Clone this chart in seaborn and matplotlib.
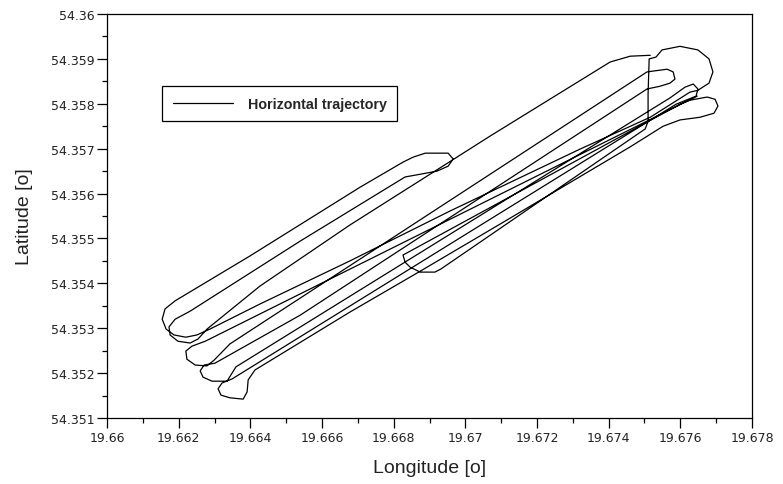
import matplotlib
matplotlib.use("Agg")
import matplotlib.pyplot as plt
from matplotlib.ticker import FixedLocator, MultipleLocator
import seaborn as sns
import pandas as pd

# ---- trajectory pieces (longitude, latitude), in travel order ----
start_c_lon = [19.67647, 19.66274, 19.66237, 19.66220, 19.66223, 19.66246, 19.66279, 19.66299]
start_c_lat = [54.35817, 54.35271, 54.35260, 54.35249, 54.35231, 54.35218, 54.35216, 54.35229]

loop2_lon = [19.66343, 19.67507, 19.67563, 19.67580, 19.67585, 19.67571, 19.67543, 19.67507]
loop2_lat = [54.35265, 54.35871, 54.35877, 54.35871, 54.35855, 54.35846, 54.35839, 54.35833]

turn_d_lon = [19.66539, 19.66301, 19.66271, 19.66260, 19.66268, 19.66293, 19.66335, 19.66349, 19.66360]
turn_d_lat = [54.35329, 54.35222, 54.35218, 54.35205, 54.35191, 54.35182, 54.35182, 54.35200, 54.35214]

loop3_lon = [19.67571, 19.67613, 19.67636, 19.67649, 19.67644, 19.67616, 19.67588]
loop3_lat = [54.35813, 54.35837, 54.35844, 54.35833, 54.35817, 54.35808, 54.35799]

turn_e_lon = [19.66349, 19.66321, 19.66310, 19.66318, 19.66343, 19.66380, 19.66391, 19.66394, 19.66413]
turn_e_lat = [54.35187, 54.35178, 54.35165, 54.35151, 54.35145, 54.35142, 54.35158, 54.35185, 54.35207]

loop4_lon = [19.66678, 19.66874, 19.67097, 19.67460, 19.67552, 19.67599, 19.67655, 19.67694, 19.67705,
             19.67697, 19.67675, 19.67627, 19.67599]
loop4_lat = [54.35336, 54.35427, 54.35532, 54.35704, 54.35750, 54.35764, 54.35770, 54.35779, 54.35795,
             54.35810, 54.35815, 54.35808, 54.35799]

hook_low_lon = [19.66826, 19.66832, 19.66846, 19.66874, 19.66915, 19.66932]
hook_low_lat = [54.35463, 54.35447, 54.35436, 54.35425, 54.35425, 54.35432]

rise_lon = [19.67502, 19.67510, 19.67510, 19.67513]
rise_lat = [54.35744, 54.35761, 54.35822, 54.35900]

loop_big_lon = [19.67532, 19.67549, 19.67599, 19.67649, 19.67680, 19.67691, 19.67680, 19.67649, 19.67627]
loop_big_lat = [54.35904, 54.35920, 54.35928, 54.35920, 54.35900, 54.35871, 54.35846, 54.35830, 54.35826]

diag_lon = [19.67516, 19.67320, 19.66957, 19.66678, 19.66427, 19.66287, 19.66251]
diag_lat = [54.35770, 54.35699, 54.35561, 54.35450, 54.35354, 54.35298, 54.35285]

turn_a_lon = [19.66220, 19.66187, 19.66165, 19.66154, 19.66162, 19.66190]
turn_a_lat = [54.35280, 54.35285, 54.35298, 54.35320, 54.35343, 54.35361]

leg1_lon = [19.66399, 19.66706, 19.66826]
leg1_lat = [54.35461, 54.35614, 54.35670]

hook_up_lon = [19.66854, 19.66888, 19.66952, 19.66966, 19.66952, 19.66921, 19.66874, 19.66832]
hook_up_lat = [54.35681, 54.35690, 54.35690, 54.35677, 54.35661, 54.35650, 54.35643, 54.35637]

leg2_lon = [19.66539, 19.66232]
leg2_lat = [54.35494, 54.35338]

turn_b_lon = [19.66190, 19.66173, 19.66176, 19.66198, 19.66232, 19.66254]
turn_b_lat = [54.35320, 54.35303, 54.35285, 54.35271, 54.35267, 54.35276]

top_leg_lon = [19.66279, 19.66427, 19.66678, 19.66929, 19.67069, 19.67404, 19.67460, 19.67516]
top_leg_lat = [54.35298, 54.35394, 54.35530, 54.35657, 54.35728, 54.35893, 54.35906, 54.35908]

x_ticks = [19.66, 19.662, 19.664, 19.666, 19.668, 19.67, 19.672, 19.674, 19.676, 19.678]
x_tick_labels = ["19.66", "19.662", "19.664", "19.666", "19.668", "19.67", "19.672", "19.674", "19.676", "19.678"]
y_ticks = [54.351, 54.352, 54.353, 54.354, 54.355, 54.356, 54.357, 54.358, 54.359, 54.36]
y_tick_labels = ["54.351", "54.352", "54.353", "54.354", "54.355", "54.356", "54.357", "54.358", "54.359", "54.36"]

pieces_lon = [start_c_lon, loop2_lon, turn_d_lon, loop3_lon, turn_e_lon, loop4_lon, hook_low_lon,
              rise_lon, loop_big_lon, diag_lon, turn_a_lon, leg1_lon, hook_up_lon, leg2_lon,
              turn_b_lon, top_leg_lon]
pieces_lat = [start_c_lat, loop2_lat, turn_d_lat, loop3_lat, turn_e_lat, loop4_lat, hook_low_lat,
              rise_lat, loop_big_lat, diag_lat, turn_a_lat, leg1_lat, hook_up_lat, leg2_lat,
              turn_b_lat, top_leg_lat]

lon_all, lat_all = [], []
for a, b in zip(pieces_lon, pieces_lat):
    lon_all += a
    lat_all += b
df = pd.DataFrame({"lon": lon_all, "lat": lat_all})

sns.set_style("white")
plt.rcParams["font.family"] = ["Liberation Sans", "DejaVu Sans"]

fig = plt.figure(figsize=(7.83, 4.85), dpi=100)
ax = fig.add_axes([107 / 783, 1 - 419 / 485, 645 / 783, 404 / 485])

sns.lineplot(data=df, x="lon", y="lat", sort=False, estimator=None, color="black",
             linewidth=0.9, ax=ax, label="Horizontal trajectory")

ax.set_xlim(19.66, 19.678)
ax.set_ylim(54.351, 54.36)
ax.xaxis.set_major_locator(FixedLocator(x_ticks))
ax.set_xticklabels(x_tick_labels)
ax.yaxis.set_major_locator(FixedLocator(y_ticks))
ax.set_yticklabels(y_tick_labels)
ax.xaxis.set_minor_locator(MultipleLocator(0.001))
ax.yaxis.set_minor_locator(MultipleLocator(0.0005))

ax.tick_params(axis="both", which="major", direction="out", length=7, width=0.9,
               colors="black", labelcolor="#222222", pad=2)
ax.tick_params(axis="both", which="minor", direction="out", length=3.5, width=0.9, colors="black")
ax.tick_params(bottom=True, left=True, top=False, right=False, which="both")
for lab in ax.get_xticklabels() + ax.get_yticklabels():
    lab.set_fontfamily("DejaVu Sans")
    lab.set_fontsize(9)

for s in ax.spines.values():
    s.set_visible(True)
    s.set_color("black")
    s.set_linewidth(0.9)

ax.set_xlabel("Longitude [o]", fontsize=14, labelpad=11, color="#222222")
ax.set_ylabel("Latitude [o]", fontsize=14, labelpad=13, color="#222222")

leg = ax.legend(loc="upper left", bbox_to_anchor=((162 - 107) / 645, (419 - 87) / 404),
                borderaxespad=0, frameon=True, fancybox=False, framealpha=1,
                edgecolor="black", handlelength=4.2, handletextpad=1.05, borderpad=0.75,
                prop={"size": 10.3, "weight": "bold", "family": ["Liberation Sans", "DejaVu Sans"]})
leg.get_frame().set_linewidth(0.9)

fig.savefig("out.png", dpi=100, facecolor="white")
